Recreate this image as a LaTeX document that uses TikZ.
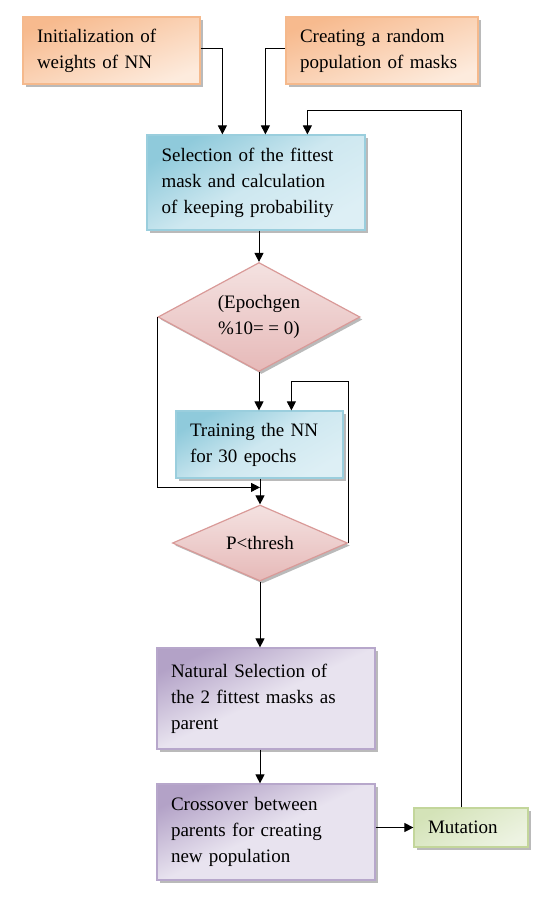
\documentclass[tikz,border=0pt]{standalone}
\usepackage{fontspec}
\setmainfont{Liberation Serif}
\usetikzlibrary{shapes.geometric,arrows.meta,shadows,calc}
\definecolor{orD}{HTML}{F7BA8E}
\definecolor{orL}{HTML}{FDEBDD}
\definecolor{orB}{HTML}{F5B98C}
\definecolor{blD}{HTML}{8FCADB}
\definecolor{blL}{HTML}{DDEFF5}
\definecolor{blB}{HTML}{9ACEDD}
\definecolor{pkD}{HTML}{E6B9B8}
\definecolor{pkL}{HTML}{F4E2E1}
\definecolor{pkB}{HTML}{D99A98}
\definecolor{puD}{HTML}{B3A2C7}
\definecolor{puL}{HTML}{E8E3EF}
\definecolor{puB}{HTML}{B7A7CB}
\definecolor{grD}{HTML}{D4E3B8}
\definecolor{grL}{HTML}{EDF3E2}
\definecolor{grB}{HTML}{C3D69B}
\tikzset{
  base/.style={line width=1.2pt, font=\fontsize{19}{26}\selectfont, inner sep=0pt,
    drop shadow={shadow xshift=2.5pt, shadow yshift=-2.5pt, fill=black!45, opacity=0.6}},
  boxnode/.style={base, rectangle, align=left, inner xsep=14pt},
  orbox/.style={boxnode, draw=orB, top color=orD, bottom color=orL, shading angle=20},
  blbox/.style={boxnode, draw=blB, top color=blD, bottom color=blL, middle color=blL!80!blD, shading angle=30},
  pubox/.style={boxnode, draw=puB, top color=puD, bottom color=puL, middle color=puL, shading angle=25},
  grbox/.style={boxnode, draw=grB, top color=grD, bottom color=grL, shading angle=30},
  decis/.style={base, diamond, shape aspect=2, align=center, draw=pkB, top color=pkL, bottom color=pkD, drop shadow={shadow xshift=0pt, shadow yshift=0pt, opacity=0}},
  arr/.style={draw=black, line width=1pt, -{Triangle[length=9pt,width=9pt]}},
  ln/.style={draw=black, line width=1pt}
}
\begin{document}
\begin{tikzpicture}[x=1pt,y=-1pt]
\useasboundingbox (0,0) rectangle (545,924);
\node[orbox, minimum width=177pt, minimum height=67pt, text width=149pt] (b1) at (111.5,50.5) {Initialization of\\weights of NN};
\node[orbox, minimum width=192pt, minimum height=67pt, text width=164pt] (b2) at (382,50.5) {Creating a random\\population of masks};
\node[blbox, minimum width=218pt, minimum height=95pt, text width=189pt] (b3) at (256,182.5) {Selection of the fittest\\mask and calculation\\of keeping probability};
\node[decis, minimum width=202pt, minimum height=109pt] (d1) at (259,317) {(Epochgen\\\%10= = 0)};
\node[blbox, minimum width=167pt, minimum height=67pt, text width=139pt] (b4) at (259.5,444.5) {Training the NN\\for 30 epochs};
\node[decis, minimum width=175pt, minimum height=76pt] (d2) at (260,543) {P<thresh};
\node[pubox, minimum width=218pt, minimum height=101pt, text width=190pt] (b5) at (266,698.5) {Natural Selection of\\the 2 fittest masks as\\parent};
\node[pubox, minimum width=218pt, minimum height=96pt, text width=190pt] (b6) at (266,832) {Crossover between\\parents for creating\\new population};
\node[grbox, minimum width=114pt, minimum height=39pt, text width=86pt] (mut) at (471,827.5) {Mutation};
% connectors
\draw[arr] ([yshift=2.5pt]b1.east) -| ([xshift=76pt]b3.north west);
\draw[arr] ([yshift=2.5pt]b2.west) -| ([xshift=119pt]b3.north west);
\draw[arr] ([xshift=-10pt]mut.north) |- ([xshift=161pt,yshift=24pt]b3.north west) -- ([xshift=161pt]b3.north west);
\draw[arr] (d1.north |- b3.south) -- (d1.north);
\draw[arr] (d1.south) -- (d1.south |- b4.north);
\coordinate (jn) at ($(d2.north)+(0,-17)$);
\draw[arr] (d1.west) |- (jn);
\draw[arr] (d2.north |- b4.south) -- (d2.north);
\draw[arr] (d2.east) |- ([xshift=116pt,yshift=29pt]b4.north west) -- ([xshift=116pt]b4.north west);
\draw[arr] (d2.south) -- (d2.south |- b5.north);
\draw[arr] (b5.south -| d2.south) -- (b6.north -| d2.south);
\draw[arr] (b6.east |- mut.west) -- (mut.west);
\end{tikzpicture}
\end{document}
